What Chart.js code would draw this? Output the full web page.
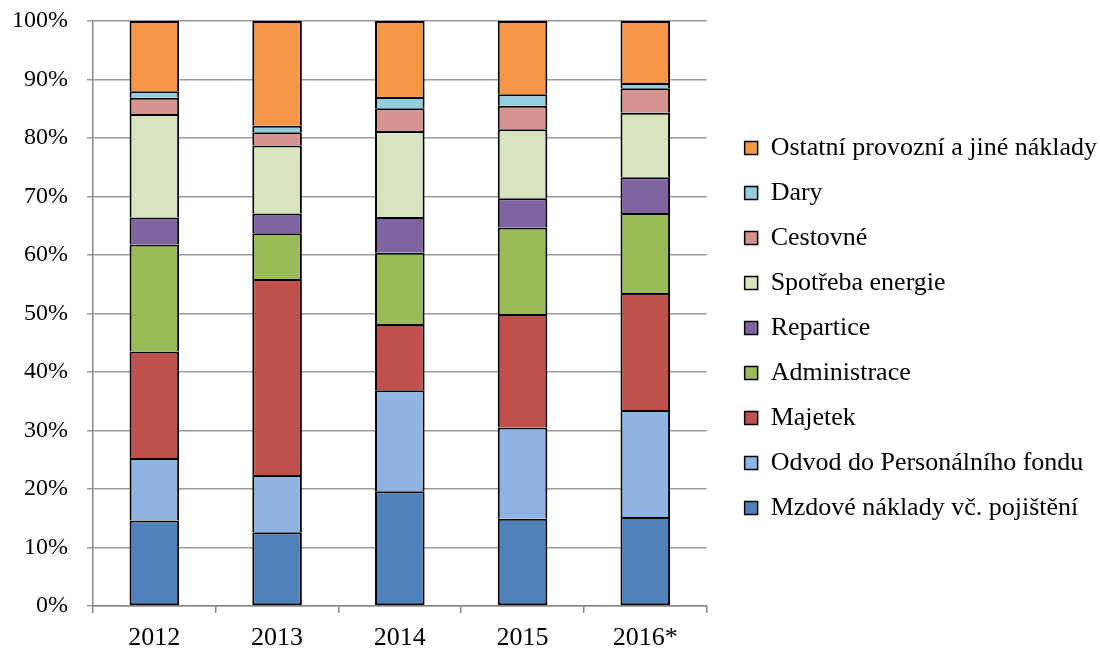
<!DOCTYPE html>
<html>
<head>
<meta charset="utf-8">
<script src="https://cdn.jsdelivr.net/npm/chart.js@4.4.0/dist/chart.umd.min.js"></script>
<style>
  html, body { margin:0; padding:0; background:#fff; }
  #wrap { width:1100px; height:650px; }
</style>
</head>
<body>
<div id="wrap"><canvas id="chart"></canvas></div>
<script>
const years = ['2012','2013','2014','2015','2016*'];

// podíl nákladů v %
const mzdove    = [14.6, 12.6, 19.6, 14.9, 15.2];
const odvod     = [10.7,  9.8, 17.3, 15.6, 18.3];
const majetek   = [18.2, 33.5, 11.3, 19.4, 20.0];
const admin     = [18.3,  7.8, 12.2, 14.8, 13.7];
const repartice = [ 4.6,  3.4,  6.1,  5.0,  6.1];
const energie   = [17.7, 11.6, 14.7, 11.8, 11.0];
const cestovne  = [ 2.8,  2.3,  3.9,  4.0,  4.2];
const dary      = [ 1.1,  1.1,  1.9,  2.0,  0.9];
const ostatni   = [12.0, 17.9, 13.0, 12.5, 10.6];

const yTicks = [0,10,20,30,40,50,60,70,80,90,100];

const series = [
  {label:'Mzdové náklady vč. pojištění', data:mzdove, color:'#4F81BD'},
  {label:'Odvod do Personálního fondu', data:odvod, color:'#8FB3E2'},
  {label:'Majetek', data:majetek, color:'#C0504D'},
  {label:'Administrace', data:admin, color:'#9BBB59'},
  {label:'Repartice', data:repartice, color:'#8064A2'},
  {label:'Spotřeba energie', data:energie, color:'#D7E4BD'},
  {label:'Cestovné', data:cestovne, color:'#D59392'},
  {label:'Dary', data:dary, color:'#93CDDD'},
  {label:'Ostatní provozní a jiné náklady', data:ostatni, color:'#F79646'}
];

Chart.defaults.font.family = '"Liberation Serif", "Times New Roman", serif';
Chart.defaults.color = '#000';

// posune legendu doprava (a kousek dolů), aby mezi grafem a legendou byla mezera
const legendShift = {
  id:'legendShift',
  afterLayout(chart){
    const lg = chart.legend;
    if (lg) { lg.left += 19; lg.right += 19; lg.top += 3; lg.bottom += 3; }
  }
};

new Chart(document.getElementById('chart'), {
  type:'bar',
  data:{
    labels:years,
    datasets:series.map((s,i) => ({
      label:s.label,
      data:s.data,
      backgroundColor:s.color,
      borderColor:'#000',
      borderWidth:2,
      borderSkipped: i === 0 ? false : 'start',
      inflateAmount:0,
      categoryPercentage:1,
      barPercentage:0.404
    }))
  },
  plugins:[legendShift],
  options:{
    responsive:true,
    maintainAspectRatio:false,
    animation:false,
    layout:{padding:{top:0, left:11, right:12, bottom:0}},
    plugins:{
      tooltip:{enabled:false},
      legend:{
        position:'right',
        reverse:true,
        maxWidth:420,
        labels:{
          boxWidth:13, boxHeight:13, padding:19,
          font:{size:26},
          generateLabels(chart){
            return chart.data.datasets.map((ds,i)=>({
              text:ds.label, fillStyle:ds.backgroundColor, strokeStyle:'#000',
              lineWidth:1.5, datasetIndex:i, hidden:false
            }));
          }
        }
      }
    },
    scales:{
      x:{
        stacked:true,
        grid:{offset:true, drawOnChartArea:false, color:'#888', lineWidth:1.5, tickLength:7},
        border:{color:'#888', width:1.5},
        ticks:{padding:10, font:{size:26}},
        afterFit(axis){ axis.height = 44; }
      },
      y:{
        stacked:true,
        min:0, max:100,
        afterBuildTicks(axis){ axis.ticks = yTicks.map(v=>({value:v})); },
        grid:{color:'#9a9a9a', lineWidth:1.5, tickLength:6},
        border:{color:'#888', width:1.5},
        ticks:{padding:19, callback:v=>v+'%', font:{size:24}},
        afterFit(axis){ axis.width = 82; axis.paddingTop = 21; }
      }
    }
  }
});
</script>
</body>
</html>
